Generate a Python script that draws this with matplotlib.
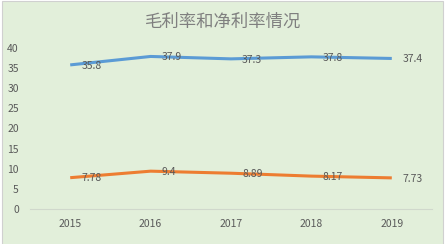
import matplotlib.pyplot as plt
from matplotlib.patches import Rectangle

plt.rcParams['font.family'] = ['Noto Sans CJK SC', 'DejaVu Sans']

years = ['2015', '2016', '2017', '2018', '2019']
gross_margin = [35.8, 37.9, 37.3, 37.8, 37.4]
net_margin = [7.78, 9.4, 8.89, 8.17, 7.73]
gross_labels = ['35.8', '37.9', '37.3', '37.8', '37.4']
net_labels = ['7.78', '9.4', '8.89', '8.17', '7.73']

bg = '#E2EFDA'
txt = '#595959'

fig = plt.figure(figsize=(4.46, 2.44), dpi=100)
fig.patch.set_facecolor('white')
# chart area frame
fig.patches.append(Rectangle((2 / 446, -0.01), 441 / 446, 1 - 1 / 244 + 0.01,
                             transform=fig.transFigure, facecolor=bg,
                             edgecolor='#D0D0D0', linewidth=0.8, zorder=-5))

ax = fig.add_axes([30 / 446, 1 - 209 / 244, 402 / 446, 161 / 244])
ax.set_facecolor('none')
ax.set_zorder(2)

x = range(len(years))
ax.plot(x, gross_margin, color='#5B9BD5', linewidth=2.2, solid_capstyle='butt')
ax.plot(x, net_margin, color='#ED7D31', linewidth=2.2, solid_capstyle='butt')

for xi, v, s in zip(x, gross_margin, gross_labels):
    ax.annotate(s, (xi, v), xytext=(8, -0.5), textcoords='offset points',
                ha='left', va='center', fontsize=7.5, color=txt)
for xi, v, s in zip(x, net_margin, net_labels):
    ax.annotate(s, (xi, v), xytext=(8, -0.5), textcoords='offset points',
                ha='left', va='center', fontsize=7.5, color=txt)

ax.set_xlim(-0.5, 4.5)
ax.set_ylim(0, 40)
ax.set_yticks(range(0, 41, 5))
ax.set_xticks(list(x))
ax.set_xticklabels(years)
ax.tick_params(length=0, labelsize=7.5, labelcolor=txt)
ax.tick_params(axis='x', pad=7)
ax.tick_params(axis='y', pad=8)
for side in ['top', 'right', 'left']:
    ax.spines[side].set_visible(False)
ax.spines['bottom'].set_color('#D0D8CC')
ax.spines['bottom'].set_linewidth(0.8)

fig.text(0.5, 1 - 22 / 244, '毛利率和净利率情况', ha='center', va='center',
         fontsize=12.5, color='#7F7F7F', zorder=3)

fig.savefig('out.png', dpi=100, facecolor=fig.get_facecolor())
